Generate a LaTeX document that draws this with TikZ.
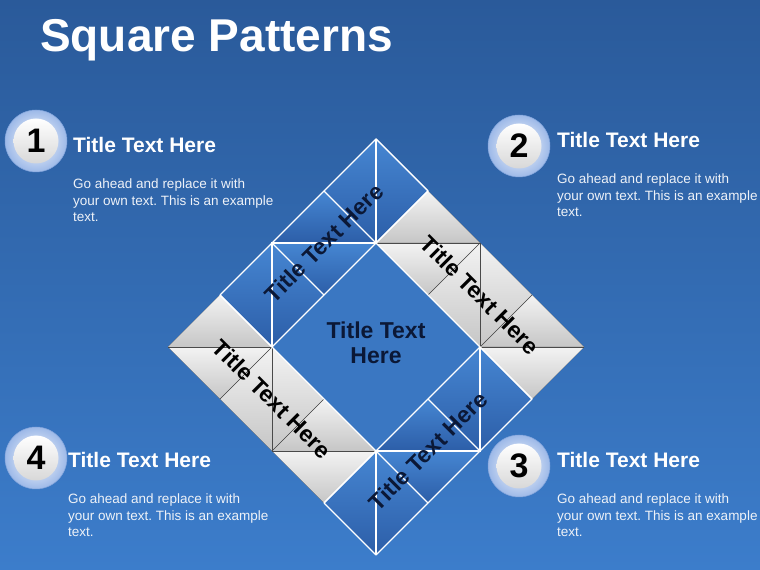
\documentclass[tikz,border=0pt]{standalone}
\usepackage{fontspec}
\setmainfont{Liberation Sans}
\frenchspacing
\usetikzlibrary{positioning}

\definecolor{bgtop}{HTML}{2A5A9A}
\definecolor{bgbottom}{HTML}{3C7DCB}
\definecolor{hubblue}{HTML}{3A77C2}
\definecolor{bluelight}{HTML}{4686D2}
\definecolor{bluedark}{HTML}{2C5EA8}
\definecolor{graylight}{HTML}{F3F3F3}
\definecolor{graydark}{HTML}{C6C6C6}
\definecolor{foldgray}{HTML}{4A4A4A}
\definecolor{navy}{HTML}{0B1836}
\definecolor{ringblue}{HTML}{9DB9E8}
\definecolor{ringedge}{HTML}{7FA2DA}
\definecolor{discgray}{HTML}{D8D8D8}
\definecolor{bodywhite}{HTML}{EEF2F8}

\begin{document}
\begin{tikzpicture}[
    x=1pt,y=1pt,
    bluecell/.style={top color=bluelight,bottom color=bluedark},
    graycell/.style={top color=graylight,bottom color=graydark},
    bluefold/.style={draw=white,line width=1.4pt},
    grayfold/.style={draw=foldgray,line width=0.6pt},
    edge/.style={draw=white,line width=1.4pt,line join=round},
    armtext/.style={font=\bfseries\fontsize{23}{25}\selectfont,inner sep=0pt},
    ring/.style={circle,minimum size=62pt,inner sep=0pt,inner color=white,outer color=ringblue,draw=ringedge,line width=0.5pt},
    disc/.style={circle,minimum size=45pt,inner sep=0pt,top color=white,bottom color=discgray,font=\bfseries\fontsize{34}{34}\selectfont},
    headtext/.style={font=\bfseries\fontsize{21}{23}\selectfont,text=white,inner sep=0pt},
    bodytext/.style={font=\fontsize{13.5}{16.5}\selectfont,text=bodywhite,align=left,inner sep=0pt}
]
    % Background
    \shade[top color=bgtop,bottom color=bgbottom] (0,0) rectangle (760,570);
    \node[font=\bfseries\fontsize{46}{50}\selectfont,text=white,inner sep=0pt,anchor=base west] (heading) at (40,518) {Square Patterns};

    % Diamond
    \begin{scope}[shift={(376,223)},x=104pt,y=104pt]
        \fill[hubblue] (0,1) -- (1,0) -- (0,-1) -- (-1,0) -- cycle;
        \foreach \ang/\cell in {0/bluecell,-90/graycell,-180/bluecell,-270/graycell}{
            \begin{scope}[rotate=\ang]
                \fill[\cell] (-0.5,1.5) -- (0,2) -- (0,1) -- cycle;
                \fill[\cell] (0,2) -- (0.5,1.5) -- (0,1) -- cycle;
                \fill[\cell] (-1,1) -- (-0.5,1.5) -- (0,1) -- cycle;
                \fill[\cell] (-1,1) -- (0,1) -- (-0.5,0.5) -- cycle;
                \fill[\cell] (-1.5,0.5) -- (-1,1) -- (-1,0) -- cycle;
                \fill[\cell] (-1,1) -- (-0.5,0.5) -- (-1,0) -- cycle;
            \end{scope}
        }
        \foreach \ang/\fold in {0/bluefold,-90/grayfold,-180/bluefold,-270/grayfold}{
            \begin{scope}[rotate=\ang]
                \draw[\fold] (0,2) -- (0,1) -- (-1,1) -- (-1,0);
                \draw[\fold] (-1,1) -- (-0.5,0.5);
                \draw[\fold] (-0.5,1.5) -- (0,1);
            \end{scope}
        }
        \foreach \ang in {0,-90,-180,-270}{
            \draw[edge,rotate=\ang] (-1.5,0.5) -- (-1,0) -- (0.5,1.5);
        }
        \foreach \ang in {0,-180}{
            \draw[edge,rotate=\ang] (-1.5,0.5) -- (0,2) -- (0.5,1.5);
        }

        % Labels
        \node[armtext,text=navy,rotate=45] (tl) at (-0.5,1) {Title Text Here};
        \node[armtext,text=black,rotate=-45] (tr) at (1,0.5) {Title Text Here};
        \node[armtext,text=navy,rotate=45] (br) at (0.5,-1) {Title Text Here};
        \node[armtext,text=black,rotate=-45] (bl) at (-1,-0.5) {Title Text Here};
        \node[armtext,text=navy,align=center,font=\bfseries\fontsize{23}{25}\selectfont] (hub) at (0,0.04) {Title Text\\Here};
    \end{scope}

    % Badges
    \foreach \n/\px/\py in {1/36/429,2/519/424,3/519/104,4/36/112}{
        \node[ring] (ring\n) at (\px,\py) {};
        \node[disc] (num\n) at (ring\n) {\n};
    }

    % Texts
    \node[headtext,anchor=base west] (t1) at (73,417) {Title Text Here};
    \node[headtext,anchor=base west] (t2) at (557,422) {Title Text Here};
    \node[headtext,anchor=base west] (t3) at (557,102) {Title Text Here};
    \node[headtext,anchor=base west] (t4) at (68,102) {Title Text Here};
    \foreach \n in {1,2,3,4}{
        \node[bodytext,anchor=north west] (d\n) at ([yshift=-26pt]t\n.base west)
            {Go ahead and replace it with\\your own text. This is an example\\text.};
    }
\end{tikzpicture}
\end{document}
